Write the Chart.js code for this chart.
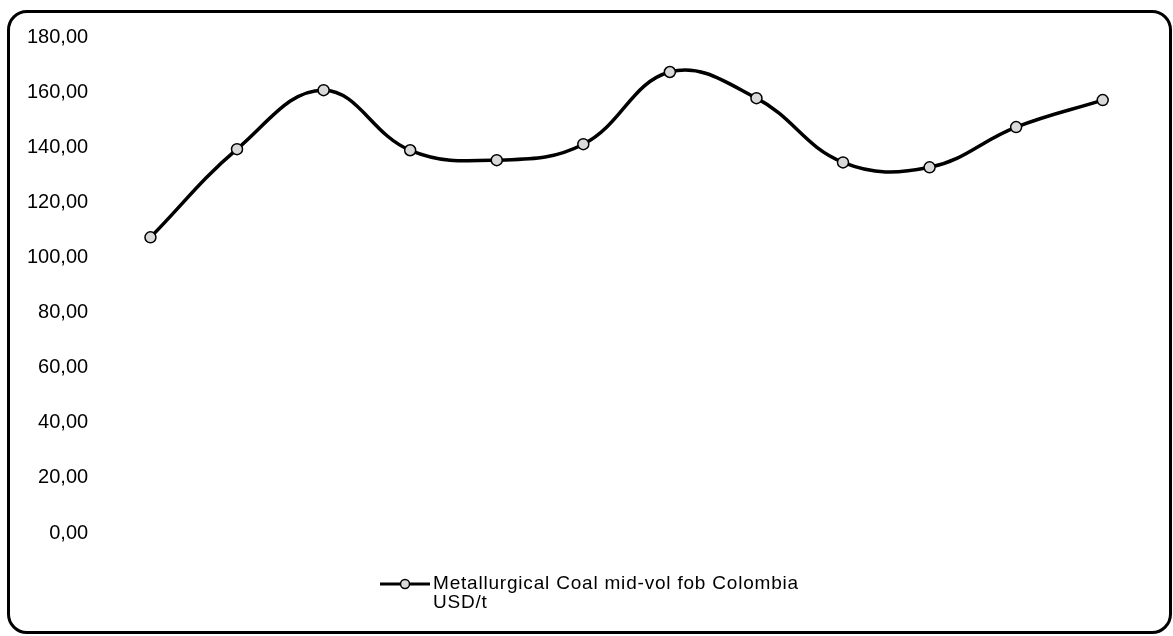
<!DOCTYPE html>
<html>
<head>
<meta charset="utf-8">
<script src="https://cdn.jsdelivr.net/npm/chart.js@4"></script>
<style>
  html, body { margin: 0; padding: 0; background: #fff; }
  #box {
    position: absolute; left: 7px; top: 10px; width: 1159px; height: 618px;
    border: 3px solid #000; border-radius: 20px;
  }
  #wrap { position: absolute; left: 0; top: 0; width: 1173px; height: 636px; }
</style>
</head>
<body>
<div id="box"></div>
<div id="wrap"><canvas id="chart"></canvas></div>
<script>
const labels = ['1', '2', '3', '4', '5', '6', '7', '8', '9', '10', '11', '12']
const coalPrices = [107.3, 139.3, 160.7, 138.9, 135.3, 141.1, 167.3, 157.8, 134.5, 132.7, 147.3, 157.1]
const legendLines = ['Metallurgical Coal mid-vol fob Colombia', 'USD/t']
const yTicks = [0, 20, 40, 60, 80, 100, 120, 140, 160, 180]

const font = 'Liberation Sans, Arial, sans-serif'

// custom two-line legend at the bottom
const bottomLegend = {
  id: 'bottomLegend',
  afterDraw(chart) {
    const ctx = chart.ctx
    const y = 584
    ctx.save()
    ctx.strokeStyle = '#000'
    ctx.lineWidth = 3
    ctx.beginPath()
    ctx.moveTo(380, y)
    ctx.lineTo(430, y)
    ctx.stroke()
    ctx.beginPath()
    ctx.arc(405, y, 4.5, 0, Math.PI * 2)
    ctx.fillStyle = '#d9d9d9'
    ctx.fill()
    ctx.lineWidth = 1.5
    ctx.stroke()
    ctx.fillStyle = '#000'
    ctx.font = '19px ' + font
    ctx.letterSpacing = '0.8px'
    ctx.textBaseline = 'middle'
    legendLines.forEach((t, i) => ctx.fillText(t, 433, y + i * 19))
    ctx.restore()
  }
}

new Chart(document.getElementById('chart'), {
  type: 'line',
  data: {
    labels,
    datasets: [{
      label: legendLines.join(' '),
      data: coalPrices,
      borderColor: '#000',
      borderWidth: 3.5,
      tension: 0.4,
      pointRadius: 5.5,
      pointBorderWidth: 1.5,
      pointBorderColor: '#000',
      pointBackgroundColor: '#d9d9d9'
    }]
  },
  options: {
    responsive: true,
    maintainAspectRatio: false,
    animation: false,
    layout: { padding: { left: 8, top: 37, right: 27, bottom: 95 } },
    plugins: {
      legend: { display: false },
      tooltip: { enabled: false }
    },
    scales: {
      x: {
        offset: true,
        grid: { display: false },
        border: { display: false },
        ticks: { display: false }
      },
      y: {
        min: 0,
        max: 180,
        afterBuildTicks(scale) {
          scale.ticks = yTicks.map(v => ({ value: v }))
        },
        grid: { display: false, drawTicks: false },
        border: { display: false },
        ticks: {
          padding: 19,
          color: '#000',
          font: { family: font, size: 20 },
          callback: v => v.toFixed(2).replace('.', ',')
        }
      }
    }
  },
  plugins: [bottomLegend]
})
</script>
</body>
</html>
